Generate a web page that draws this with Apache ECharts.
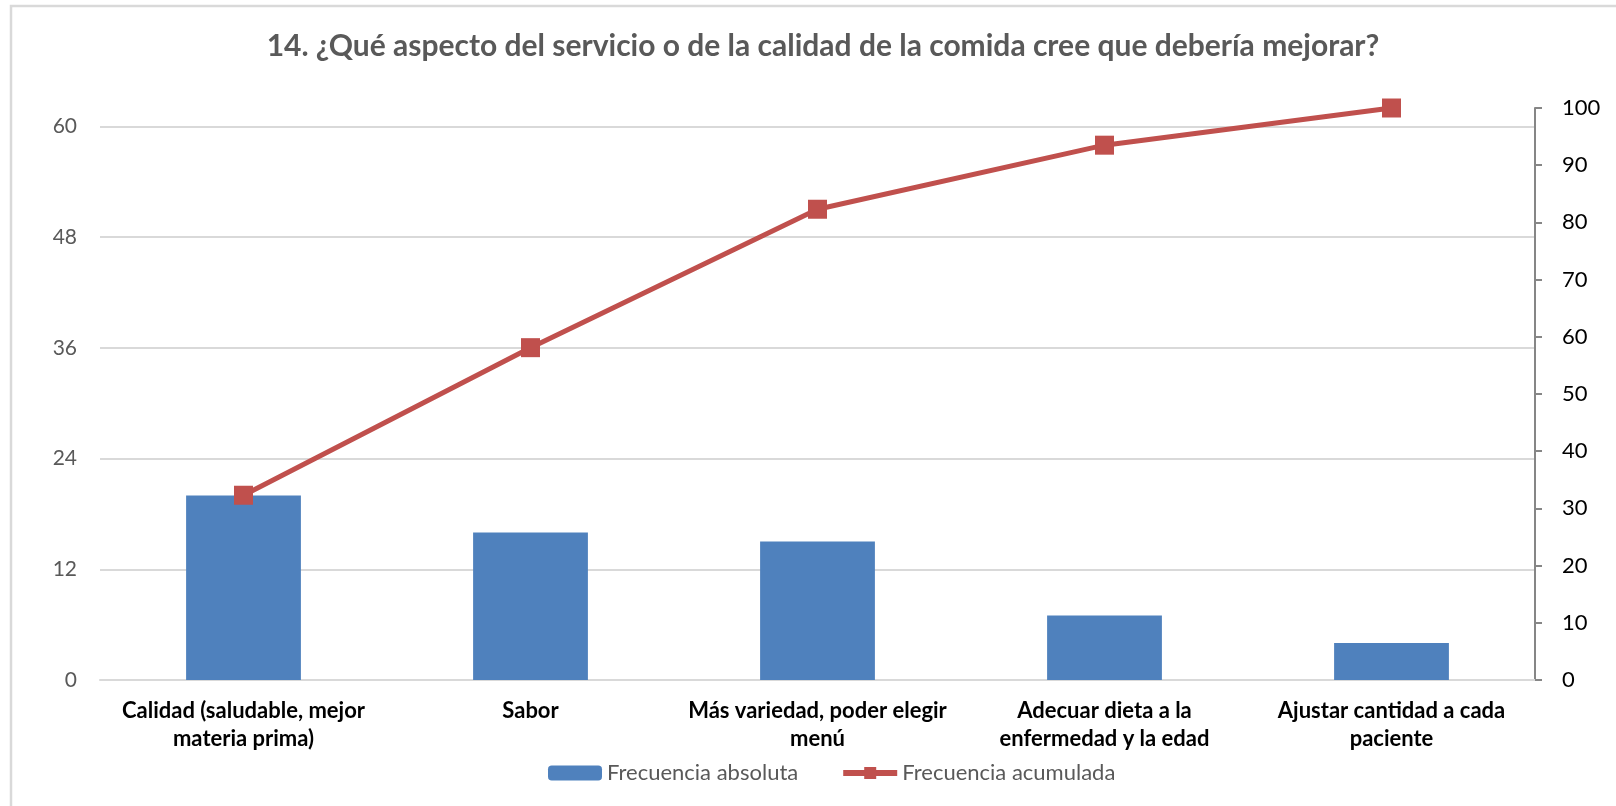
<!DOCTYPE html>
<html>
<head>
<meta charset="utf-8">
<script src="https://cdn.jsdelivr.net/npm/echarts@6/dist/echarts.min.js"></script>
<style>
html,body{margin:0;padding:0;background:#fff;}
#chart{width:1616px;height:806px;}
</style>
</head>
<body>
<div id="chart"></div>
<script>
const title = '14. ¿Qué aspecto del servicio o de la calidad de la comida cree que debería mejorar?';
const categories = [
  'Calidad (saludable, mejor\nmateria prima)',
  'Sabor',
  'Más variedad, poder elegir\nmenú',
  'Adecuar dieta a la\nenfermedad y la edad',
  'Ajustar cantidad a cada\npaciente'
];
const absoluteName = 'Frecuencia absoluta';
const cumulativeName = 'Frecuencia acumulada';
const absoluteValues = [20, 16, 15, 7, 4];
const cumulativeValues = [32.3, 58.1, 82.3, 93.5, 100];
const leftTicks = {min: 0, max: 62, interval: 12};
const rightTicks = {min: 0, max: 100, interval: 10};

const FONT = 'Lato';
const chart = echarts.init(document.getElementById('chart'), null, {renderer: 'canvas'});
chart.setOption({
  animation: false,
  backgroundColor: '#ffffff',
  graphic: [{
    type: 'rect',
    shape: {x: 11, y: 6, width: 1700, height: 900},
    style: {fill: 'none', stroke: '#d9d9d9', lineWidth: 2.5},
    silent: true
  }, {
    type: 'text',
    x: 823,
    y: 46,
    silent: true,
    style: {
      text: title,
      align: 'center',
      verticalAlign: 'middle',
      fontFamily: FONT, fontWeight: 'bold', fontSize: 30, fill: '#595959'
    }
  }],
  legend: {
    bottom: 17,
    left: 543,
    itemWidth: 54,
    itemHeight: 15,
    itemGap: 42,
    textStyle: {fontFamily: FONT, fontSize: 22, color: '#595959'},
    data: [
      {name: absoluteName},
      {name: cumulativeName, lineStyle: {width: 6}}
    ]
  },
  grid: {left: 100, right: 81, top: 108, bottom: 126},
  xAxis: {
    type: 'category',
    data: categories,
    axisLine: {show: true, lineStyle: {color: '#d9d9d9', width: 2}},
    axisTick: {show: false},
    axisLabel: {
      interval: 0,
      margin: 17,
      fontFamily: FONT, fontWeight: 'bold', fontSize: 22, color: '#000000',
      lineHeight: 28, align: 'center'
    }
  },
  yAxis: [{
    type: 'value',
    min: leftTicks.min, max: leftTicks.max, interval: leftTicks.interval,
    position: 'left',
    axisLine: {show: false},
    axisTick: {show: false},
    axisLabel: {showMaxLabel: false, margin: 23, fontFamily: FONT, fontSize: 21, color: '#595959'},
    splitLine: {show: true, showMaxLine: false, lineStyle: {color: '#d9d9d9', width: 2}}
  }, {
    type: 'value',
    min: rightTicks.min, max: rightTicks.max, interval: rightTicks.interval,
    position: 'right',
    axisLine: {show: true, lineStyle: {color: '#868686', width: 2}},
    axisTick: {show: true, inside: false, length: 7, lineStyle: {color: '#868686', width: 2}},
    axisLabel: {margin: 27, fontFamily: FONT, fontSize: 22, color: '#000000'},
    splitLine: {show: false}
  }],
  series: [{
    name: absoluteName,
    type: 'bar',
    yAxisIndex: 0,
    data: absoluteValues,
    barWidth: '40%',
    itemStyle: {color: '#4f81bd'},
    z: 2
  }, {
    name: cumulativeName,
    type: 'line',
    yAxisIndex: 1,
    data: cumulativeValues,
    symbol: 'rect',
    symbolSize: 19,
    lineStyle: {color: '#c0504d', width: 5},
    itemStyle: {color: '#c0504d'},
    z: 3
  }]
});
</script>
</body>
</html>
